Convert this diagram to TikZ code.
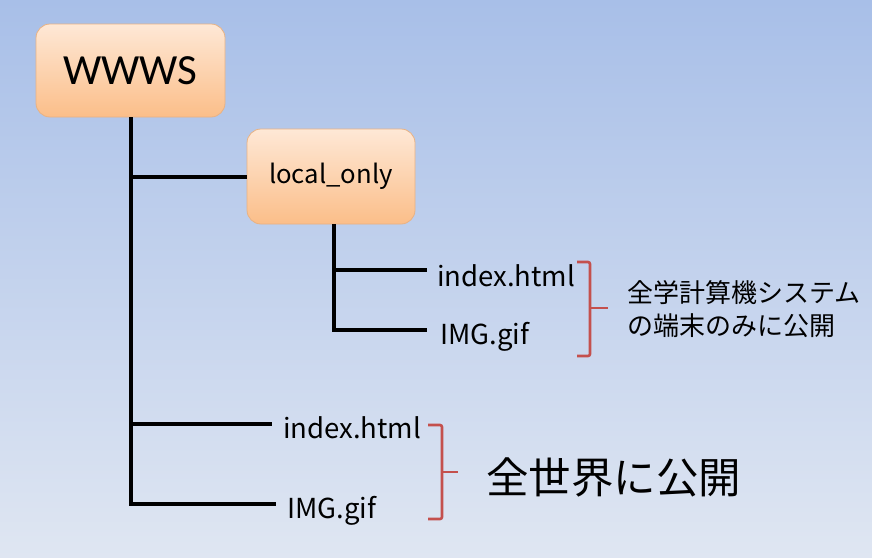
\documentclass[tikz,border=0pt]{standalone}
\usepackage{fontspec}
\newfontfamily\jpfont{Noto Sans CJK JP}
\newfontfamily\calfont{Carlito}
\begin{document}
\begin{tikzpicture}[x=1pt,y=-1pt,
  box/.style={draw=boxedge,line width=0.8pt,rounded corners=14pt,top color=boxtop,bottom color=boxbot,inner sep=0pt},
  tree/.style={line width=3.2pt,black},
  file/.style={font=\jpfont\fontsize{27.5}{30}\selectfont,anchor=west,inner sep=0pt,text depth=0pt},
  brack/.style={line width=2.6pt,bracered,rounded corners=2pt},
  note/.style={font=\jpfont\fontsize{26}{33}\selectfont,anchor=west,inner sep=0pt,align=left}]
\definecolor{bgtop}{RGB}{168,191,232}
\definecolor{bgbot}{RGB}{223,230,242}
\definecolor{boxtop}{RGB}{254,232,214}
\definecolor{boxbot}{RGB}{251,190,137}
\definecolor{boxedge}{RGB}{232,178,132}
\definecolor{bracered}{RGB}{196,80,77}
\shade[top color=bgtop,bottom color=bgbot] (0,0) rectangle (872,557);
\useasboundingbox (0,0) rectangle (872,557);
\node[box,minimum width=189pt,minimum height=93pt,font=\calfont\fontsize{43}{48}\selectfont] (wwws) at (130.5,70.5) {WWWS};
\node[box,minimum width=168pt,minimum height=95pt,font=\jpfont\fontsize{25.7}{28}\selectfont] (lo) at (331,176.5) {local\_only};
\coordinate (t1) at (131,117);
\coordinate (l1) at (334,224);
\node[file] (idx1) at (437,276) {index.html};
\node[file] (img1) at (440,333) {IMG.gif};
\node[file] (idx2) at (283,428) {index.html};
\node[file] (img2) at (287,507) {IMG.gif};
% trunk
\draw[tree] (t1) -- (t1 |- 0,504) -- (276,504);
\draw[tree] (t1 |- 0,177) -- (lo.west |- 0,177);
\draw[tree] (t1 |- 0,424) -- (272,424);
\draw[tree] (l1) -- (l1 |- 0,330) -- (427,330);
\draw[tree] (l1 |- 0,270) -- (427,270);
% brackets
\coordinate (b1) at (590,262);
\draw[brack] (577,262) -- (b1) -- (590,356) -- (577,356);
\draw[brack, rounded corners=0pt] (590,308) -- (608,308);
\coordinate (b2) at (442,425);
\draw[brack] (428,425) -- (b2) -- (442,519) -- (428,519);
\draw[brack, rounded corners=0pt] (442,472) -- (458,472);
\node[note] (n1) at (627,309) {全学計算機システム\\の端末のみに公開};
\node[note,font=\jpfont\fontsize{42.5}{46}\selectfont] (n2) at (486,477) {全世界に公開};
\end{tikzpicture}
\end{document}
